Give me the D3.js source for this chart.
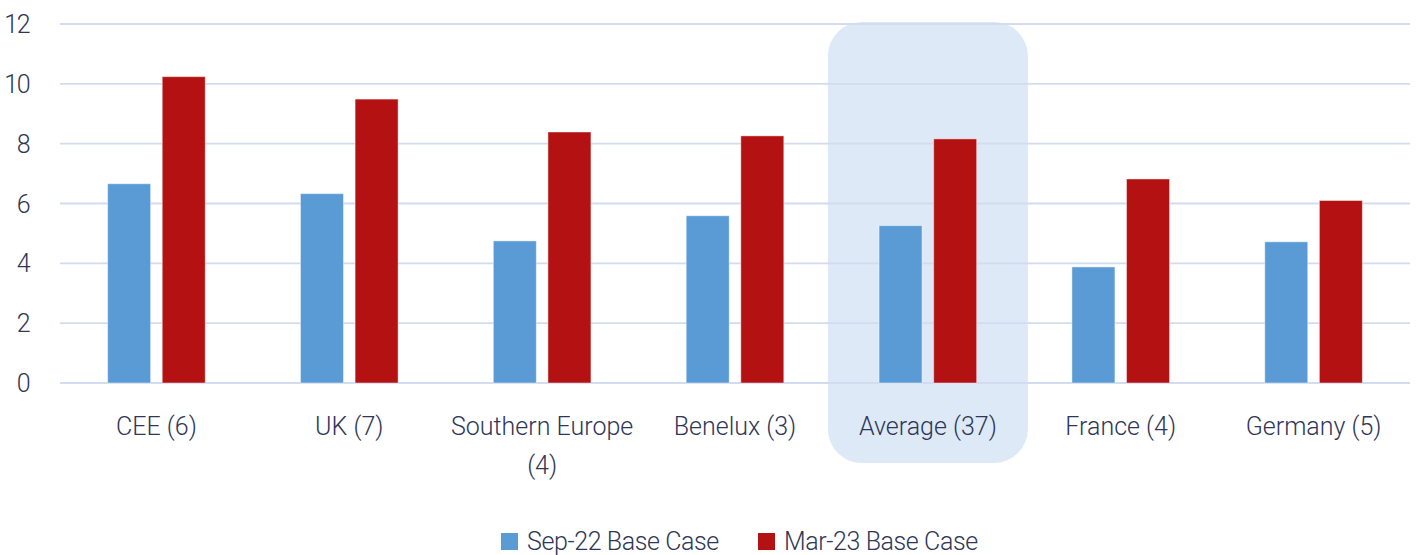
<!DOCTYPE html>
<html>
<head>
<meta charset="utf-8">
<script src="https://cdn.jsdelivr.net/npm/d3@7"></script>
<style>
  body { margin: 0; background: #fff; }
  text { font-family: Roboto, sans-serif; font-weight: 300; fill: #2f3657; }
</style>
</head>
<body>
<div id="chart"></div>
<script>
var width = 1416, height = 555;
var margin = { top: 24, left: 60, right: 6, bottom: 172 };

var categories = ["CEE (6)", "UK (7)", "Southern Europe (4)", "Benelux (3)", "Average (37)", "France (4)", "Germany (5)"];
var sep22 = [6.66, 6.33, 4.75, 5.59, 5.26, 3.88, 4.72];
var mar23 = [10.24, 9.49, 8.39, 8.26, 8.16, 6.82, 6.10];
var seriesNames = ["Sep-22 Base Case", "Mar-23 Base Case"];
var yTicks = [0, 2, 4, 6, 8, 10, 12];
var highlight = "Average (37)";

var colors = ["#5b9bd5", "#b41212"];

var svg = d3.select("#chart")
	.append("svg")
	.attr("width", width)
	.attr("height", height);

var plotW = width - margin.left - margin.right;

var x = d3.scaleBand()
	.domain(categories)
	.range([margin.left, margin.left + plotW])
	.paddingInner(0)
	.paddingOuter(0);

var y = d3.scaleLinear()
	.domain([0, 12])
	.range([383, margin.top]);

// two bars inside each category
var x1 = d3.scaleBand()
	.domain([0, 1])
	.range([0, x.bandwidth()])
	.paddingInner(0.2125)
	.paddingOuter(0.872);

// highlight box behind Average
svg.append("rect")
	.attr("x", x(highlight) + x.bandwidth() / 2 - 100)
	.attr("y", 22)
	.attr("width", 200)
	.attr("height", 441)
	.attr("rx", 34)
	.attr("fill", "#dde9f6");

// gridlines
svg.append("g")
	.selectAll("line")
	.data(yTicks)
	.join("line")
	.attr("x1", margin.left)
	.attr("x2", margin.left + plotW)
	.attr("y1", d => y(d))
	.attr("y2", d => y(d))
	.attr("stroke", "#d3dbef")
	.attr("stroke-width", 1.8);

// y labels
svg.append("g")
	.selectAll("text")
	.data(yTicks)
	.join("text")
	.attr("x", 29)
	.attr("y", d => y(d))
	.attr("dy", "0.36em")
	.attr("text-anchor", "end")
	.attr("font-size", "25px")
	.attr("letter-spacing", "-1.5px")
	.text(d => d);

// bars
var groups = svg.append("g")
	.selectAll("g")
	.data(categories)
	.join("g")
	.attr("transform", d => "translate(" + x(d) + ",0)");

groups.selectAll("rect")
	.data((d, i) => [sep22[i], mar23[i]])
	.join("rect")
	.attr("x", (d, j) => x1(j))
	.attr("width", x1.bandwidth())
	.attr("y", d => y(d))
	.attr("height", d => y(0) - y(d))
	.attr("fill", (d, j) => colors[j])
	.attr("stroke", "rgba(255,255,255,0.45)")
	.attr("stroke-width", 1);

// category labels, wrapped like excel
var maxW = 185;
svg.append("g")
	.selectAll("text")
	.data(categories)
	.join("text")
	.attr("x", d => x(d) + x.bandwidth() / 2)
	.attr("y", 435)
	.attr("text-anchor", "middle")
	.attr("font-size", "25px")
	.each(function(d) {
		var t = d3.select(this);
		var words = d.split(" ");
		var lines = [], line = [];
		words.forEach(function(w) {
			line.push(w);
			t.text(line.join(" "));
			if (this.getComputedTextLength() > maxW && line.length > 1) {
				line.pop();
				lines.push(line.join(" "));
				line = [w];
			}
		}, this);
		lines.push(line.join(" "));
		t.text(null);
		lines.forEach(function(l, k) {
			t.append("tspan")
				.attr("x", t.attr("x"))
				.attr("dy", k === 0 ? 0 : 39)
				.text(l);
		});
	});

// legend
var legend = svg.append("g");
var legX = [501, 758];
seriesNames.forEach(function(name, i) {
	legend.append("rect")
		.attr("x", legX[i])
		.attr("y", 533)
		.attr("width", 17)
		.attr("height", 17)
		.attr("fill", colors[i]);
	legend.append("text")
		.attr("x", legX[i] + 26)
		.attr("y", 550)
		.attr("font-size", "25px")
		.attr("letter-spacing", "-0.4px")
		.text(name);
});
</script>
</body>
</html>
